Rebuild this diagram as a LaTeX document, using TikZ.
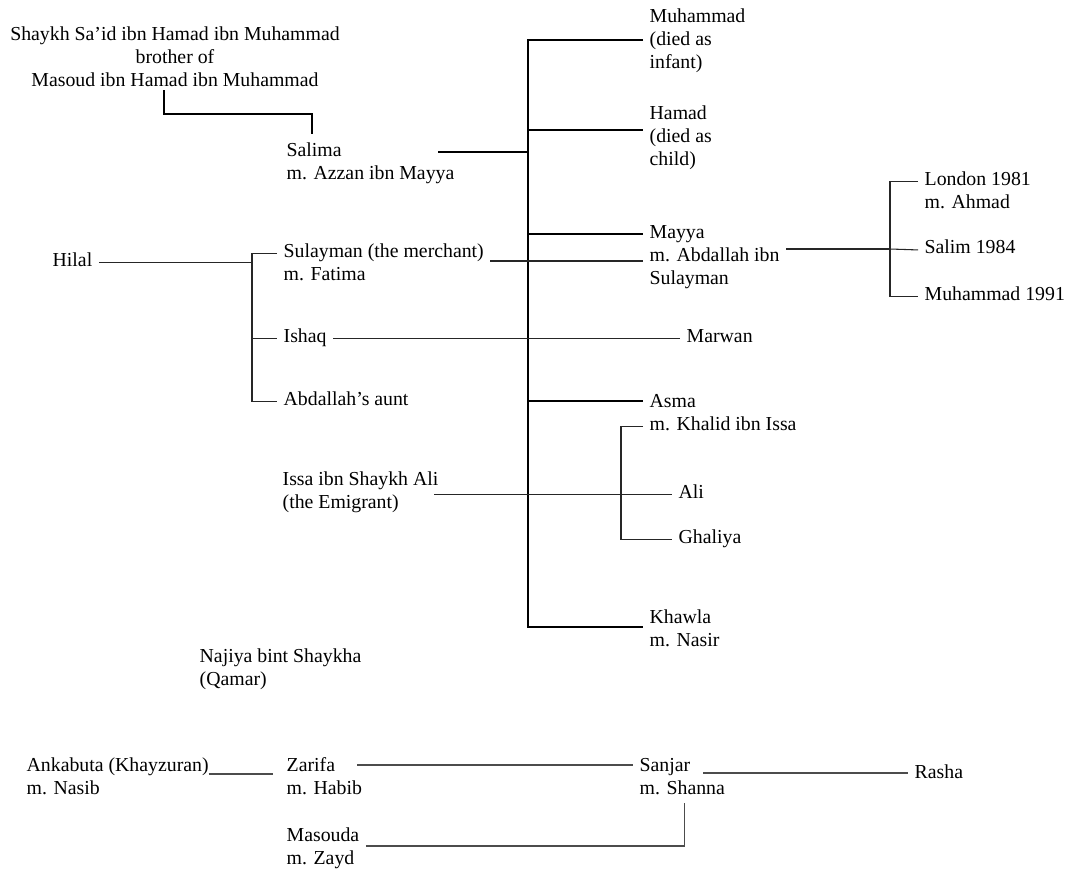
\documentclass[tikz,border=0pt]{standalone}
\usepackage{fontspec}
\setmainfont{Liberation Serif}
\usetikzlibrary{calc}
\tikzset{
  kin/.style={inner sep=0pt, outer xsep=5pt, anchor=base west, align=left,
    font=\fontsize{14.85}{17.25}\selectfont},
  bloodline/.style={line width=1.5pt},
  tie/.style={line width=0.8pt, black!85},
  faint/.style={line width=1pt, black!70},
}

\begin{document}
\begin{tikzpicture}[x=0.75pt, y=-0.75pt]
\useasboundingbox (0,0) rectangle (1070,871);

\node[kin, anchor=base, align=center] (shaykh) at (175,86) {Shaykh Sa’id ibn Hamad ibn Muhammad\\ brother of\\ Masoud ibn Hamad ibn Muhammad};
\node[kin] (salima) at (280,179) {Salima\\ m. Azzan ibn Mayya};
\node[kin] (muhammad) at (643,68) {Muhammad\\ (died as\\ infant)};
\node[kin] (hamad) at (643,165) {Hamad\\ (died as\\ child)};
\node[kin] (mayya) at (643,284) {Mayya\\ m. Abdallah ibn\\ Sulayman};
\node[kin] (london) at (918,208) {London 1981\\ m. Ahmad};
\node[kin] (salim) at (918,253) {Salim 1984};
\node[kin] (muhammad91) at (918,300) {Muhammad 1991};
\node[kin] (hilal) at (46,266) {Hilal};
\node[kin] (sulayman) at (277,280) {Sulayman (the merchant)\\ m. Fatima};
\node[kin] (ishaq) at (277,342) {Ishaq};
\node[kin] (aunt) at (277,405) {Abdallah’s aunt};
\node[kin] (marwan) at (680,342) {Marwan};
\node[kin] (asma) at (643,430) {Asma\\ m. Khalid ibn Issa};
\node[kin] (issa) at (276,508) {Issa ibn Shaykh Ali\\ (the Emigrant)};
\node[kin] (ali) at (672,498) {Ali};
\node[kin] (ghaliya) at (672,543) {Ghaliya};
\node[kin] (khawla) at (643,646) {Khawla\\ m. Nasir};
\node[kin] (najiya) at (193,685) {Najiya bint Shaykha\\ (Qamar)};
\node[kin] (ankabuta) at (20,794) {Ankabuta (Khayzuran)\\ m. Nasib};
\node[kin] (zarifa) at (280,794) {Zarifa\\ m. Habib};
\node[kin] (sanjar) at (633,794) {Sanjar\\ m. Shanna};
\node[kin] (rasha) at (908,778) {Rasha};
\node[kin] (masouda) at (280,864) {Masouda\\ m. Zayd};

\coordinate (trunk top) at (528,40);
\coordinate (trunk bottom) at (528,627);
\coordinate (salima out) at (438,152);
\coordinate (hilal fork) at (252,262);
\coordinate (mayya fork) at (890,249);
\coordinate (asma fork) at (621,493);
\coordinate (zarifa out) at (357,765);
\coordinate (sanjar out) at (703,773);

\draw[bloodline] ([shift={(-8pt,-3pt)}]shaykh.south) -- ++(0,24) -| ([shift={(32,-8)}]salima.north west);
\draw[bloodline] (salima out) -- (salima out -| trunk top);
\draw[bloodline] (muhammad.west |- trunk top) -| (trunk bottom) -- (khawla.west |- trunk bottom);
\foreach \who/\yy in {hamad/130, mayya/234, asma/401}
  \draw[bloodline] (528,\yy) -- (\who.west |- 0,\yy);

\draw[tie] (hilal.mid east) -- (hilal.mid east -| hilal fork);
\draw[tie] ([yshift=17.25pt]sulayman.mid west) -| (hilal fork) |- (aunt.mid west);
\draw[tie] (ishaq.mid west -| hilal fork) -- (ishaq.mid west);
\draw[tie] (ishaq.mid east) -- (marwan.mid west);
\draw[tie] ([yshift=14.25pt]sulayman.base east) -- ([yshift=14.25pt]sulayman.base east -| mayya.west);
\draw[tie] ([yshift=26.25pt]mayya.base east) -- (mayya fork);
\draw[tie] ([yshift=17.25pt]london.mid west) -| (mayya fork) |- (muhammad91.mid west);
\draw[tie] (mayya fork) -- (salim.mid west);
\draw[tie] ([xshift=-8pt]issa.east |- ali.mid west) -- (ali.mid west);
\draw[tie] (asma.mid west) -| (asma fork) |- (ghaliya.mid west);

\draw[faint] ([shift={(-5pt,15pt)}]ankabuta.base east) -- ([shift={(-5pt,15pt)}]ankabuta.base east -| zarifa.west);
\draw[faint] (zarifa out) -- (zarifa out -| sanjar.west);
\draw[faint] (sanjar out) -- (sanjar out -| rasha.mid west);
\draw[faint] ([yshift=13.5pt]masouda.base east) -| ([shift={(1.5pt,-6pt)}]sanjar.south);

\end{tikzpicture}
\end{document}
